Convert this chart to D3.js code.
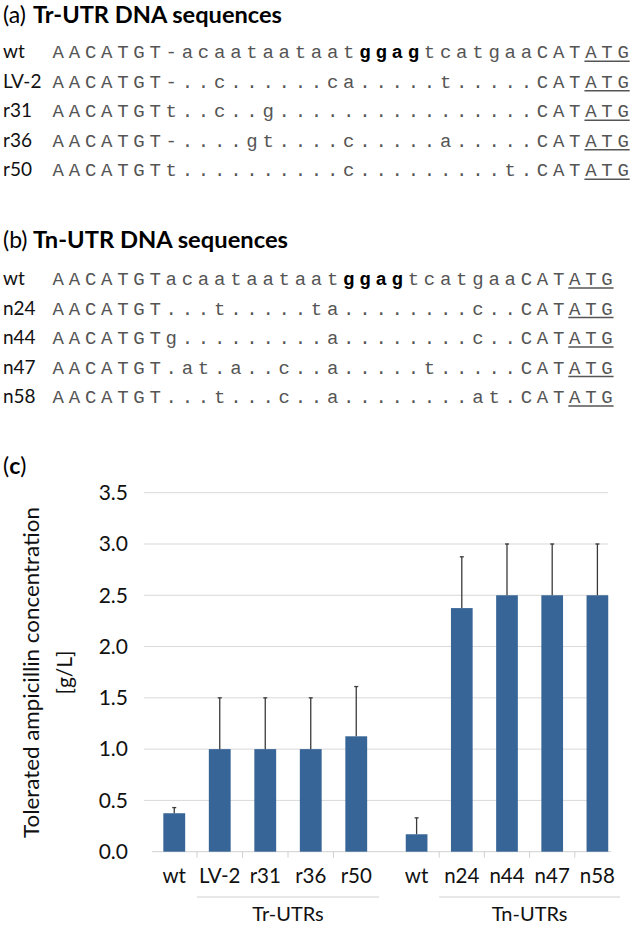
<!DOCTYPE html>
<html><head><meta charset="utf-8">
<script src="https://cdn.jsdelivr.net/npm/d3@7"></script>
<style>body{margin:0;background:#fff} svg{display:block}</style>
</head><body><svg id="c" width="633" height="929"></svg>
<script>
// ---- data ----
const trLabels = ["wt","LV-2","r31","r36","r50"];
const trSequences = [
  "AACATGT-acaataataatggagtcatgaaCATATG",
  "AACATGT-..c......ca.....t.....CATATG",
  "AACATGTt..c..g................CATATG",
  "AACATGT-....gt....c.....a.....CATATG",
  "AACATGTt..........c.........t.CATATG"
];
const tnLabels = ["wt","n24","n44","n47","n58"];
const tnSequences = [
  "AACATGTacaataataatggagtcatgaaCATATG",
  "AACATGT...t.....ta........c..CATATG",
  "AACATGTg.........a........c..CATATG",
  "AACATGT.at.a..c..a.....t.....CATATG",
  "AACATGT...t...c..a........at.CATATG"
];
const boldMotif = "ggag";
const startCodonLength = 3;

const trCategories = ["wt","LV-2","r31","r36","r50"];
const trValues = [0.375, 1.0, 1.0, 1.0, 1.125];
const trErrors = [0.055, 0.5, 0.5, 0.5, 0.485];
const tnCategories = ["wt","n24","n44","n47","n58"];
const tnValues = [0.17, 2.375, 2.5, 2.5, 2.5];
const tnErrors = [0.16, 0.5, 0.5, 0.5, 0.5];
const yTicks = [0, 0.5, 1.0, 1.5, 2.0, 2.5, 3.0, 3.5];
const groupNames = ["Tr-UTRs", "Tn-UTRs"];

// ---- drawing ----
const svg = d3.select("#c");
const SANS = "Lato, 'Open Sans', 'Noto Sans', sans-serif";
const MONO = "'Courier New', 'Liberation Mono', monospace";

function panelTitle(y, letter, text, textEnd) {
  svg.append("text").attr("x", 3).attr("y", y)
    .attr("font-family", SANS).attr("font-size", 23).attr("fill", "#000")
    .text("(" + letter + ")");
  svg.append("text").attr("x", 33).attr("y", y)
    .attr("font-family", SANS).attr("font-size", 23).attr("font-weight", "bold")
    .attr("fill", "#000")
    .attr("textLength", textEnd - 33).attr("lengthAdjust", "spacingAndGlyphs")
    .text(text);
}

function seqBlock(labels, seqs, y0) {
  const n = seqs[0].length;
  const cx = d3.scaleLinear().domain([0, 1]).range([58.3, 58.3 + 16.14]);
  const ry = d3.scaleLinear().domain([0, 1]).range([y0, y0 + 29.5]);
  const boldStart = seqs[0].indexOf(boldMotif);
  const isBold = (r, i) => r === 0 && i >= boldStart && i < boldStart + boldMotif.length;
  labels.forEach((lab, r) => {
    svg.append("text").attr("x", 3).attr("y", ry(r))
      .attr("font-family", SANS).attr("font-size", 19).attr("fill", "#111").text(lab);
    const chars = seqs[r].split("").map((ch, i) => ({ch, i}));
    svg.append("g").selectAll("text").data(chars).join("text")
      .attr("x", d => cx(d.i)).attr("y", ry(r))
      .attr("text-anchor", "middle")
      .attr("font-family", MONO).attr("font-size", 19)
      .attr("font-weight", d => isBold(r, d.i) ? "bold" : "normal")
      .attr("fill", d => isBold(r, d.i) ? "#000" : "#555")
      .text(d => d.ch);
    svg.append("line")
      .attr("x1", cx(n - startCodonLength) - 6.5).attr("x2", cx(n - 1) + 6.5)
      .attr("y1", ry(r) + 3).attr("y2", ry(r) + 3)
      .attr("stroke", "#555").attr("stroke-width", 1.4);
  });
}

panelTitle(22.5, "a", "Tr-UTR DNA sequences", 282);
seqBlock(trLabels, trSequences, 58.3);
panelTitle(247.5, "b", "Tn-UTR DNA sequences", 288);
seqBlock(tnLabels, tnSequences, 285);

// (c)
const ct = svg.append("text").attr("x", 3).attr("y", 474)
  .attr("font-family", SANS).attr("font-size", 23).attr("fill", "#000");
ct.append("tspan").text("(");
ct.append("tspan").attr("font-weight", "bold").text("c");
ct.append("tspan").text(")");

// chart
const y = d3.scaleLinear().domain([0, 3.5]).range([851.7, 492.7]);
const xL = d3.scaleBand().domain(trCategories).range([151.5, 379]).paddingInner(0.52).paddingOuter(0.26);
const xR = d3.scaleBand().domain(tnCategories).range([394, 620]).paddingInner(0.52).paddingOuter(0.26);

// gridlines
svg.append("g").selectAll("line").data(yTicks.filter(v => v > 0)).join("line")
  .attr("x1", 144).attr("x2", 608)
  .attr("y1", d => y(d)).attr("y2", d => y(d))
  .attr("stroke", "#d9d9d9").attr("stroke-width", 1);

// y axis labels
const yAxis = svg.append("g").attr("transform", "translate(144,0)")
  .call(d3.axisLeft(y).tickValues(yTicks).tickFormat(d3.format(".1f")).tickSize(0).tickPadding(16));
yAxis.select(".domain").remove();
yAxis.selectAll("text").attr("font-family", SANS).attr("font-size", 21).attr("fill", "#111");

// axis title
svg.append("text").attr("transform", "translate(39,672.5) rotate(-90)")
  .attr("text-anchor", "middle").attr("font-family", SANS).attr("font-size", 21)
  .attr("fill", "#111").attr("textLength", 331).attr("lengthAdjust", "spacingAndGlyphs")
  .text("Tolerated ampicillin concentration");
svg.append("text").attr("transform", "translate(72,672.5) rotate(-90)")
  .attr("text-anchor", "middle").attr("font-family", SANS).attr("font-size", 21)
  .attr("fill", "#111").text("[g/L]");

// baseline
svg.append("line").attr("x1", 152).attr("x2", 611).attr("y1", y(0)).attr("y2", y(0))
  .attr("stroke", "#d0d0d0").attr("stroke-width", 1);

function drawGroup(x, cats, vals, errs, groupName) {
  const data = cats.map((c, i) => ({c, v: vals[i], e: errs[i]}));
  const g = svg.append("g");
  g.selectAll("rect").data(data).join("rect")
    .attr("x", d => x(d.c)).attr("width", x.bandwidth())
    .attr("y", d => y(d.v)).attr("height", d => y(0) - y(d.v))
    .attr("fill", "#386597");
  const mid = d => x(d.c) + x.bandwidth() / 2;
  g.selectAll("line.err").data(data).join("line").attr("class", "err")
    .attr("x1", mid).attr("x2", mid)
    .attr("y1", d => y(d.v)).attr("y2", d => y(d.v + d.e))
    .attr("stroke", "#3a3a3a").attr("stroke-width", 1.3);
  g.selectAll("line.cap").data(data).join("line").attr("class", "cap")
    .attr("x1", d => mid(d) - 2).attr("x2", d => mid(d) + 2)
    .attr("y1", d => y(d.v + d.e)).attr("y2", d => y(d.v + d.e))
    .attr("stroke", "#3a3a3a").attr("stroke-width", 1.3);
  const off = (x.step() - x.bandwidth()) / 2;
  g.selectAll("line.tk").data(cats.slice(1)).join("line").attr("class", "tk")
    .attr("x1", d => x(d) - off).attr("x2", d => x(d) - off)
    .attr("y1", y(0)).attr("y2", y(0) + 6)
    .attr("stroke", "#d0d0d0").attr("stroke-width", 1);
  g.selectAll("text.cat").data(cats).join("text").attr("class", "cat")
    .attr("x", d => x(d) + x.bandwidth() / 2).attr("y", 883)
    .attr("text-anchor", "middle").attr("font-family", SANS).attr("font-size", 20.5)
    .attr("fill", "#111").text(d => d);
  const gx1 = x(cats[1]) - off, gx2 = x.range()[1];
  g.append("line").attr("x1", gx1).attr("x2", gx2).attr("y1", 897).attr("y2", 897)
    .attr("stroke", "#d0d0d0").attr("stroke-width", 1);
  g.append("text").attr("x", (gx1 + gx2) / 2).attr("y", 921)
    .attr("text-anchor", "middle").attr("font-family", SANS).attr("font-size", 20)
    .attr("fill", "#111").text(groupName);
}
drawGroup(xL, trCategories, trValues, trErrors, groupNames[0]);
drawGroup(xR, tnCategories, tnValues, tnErrors, groupNames[1]);
</script></body></html>
